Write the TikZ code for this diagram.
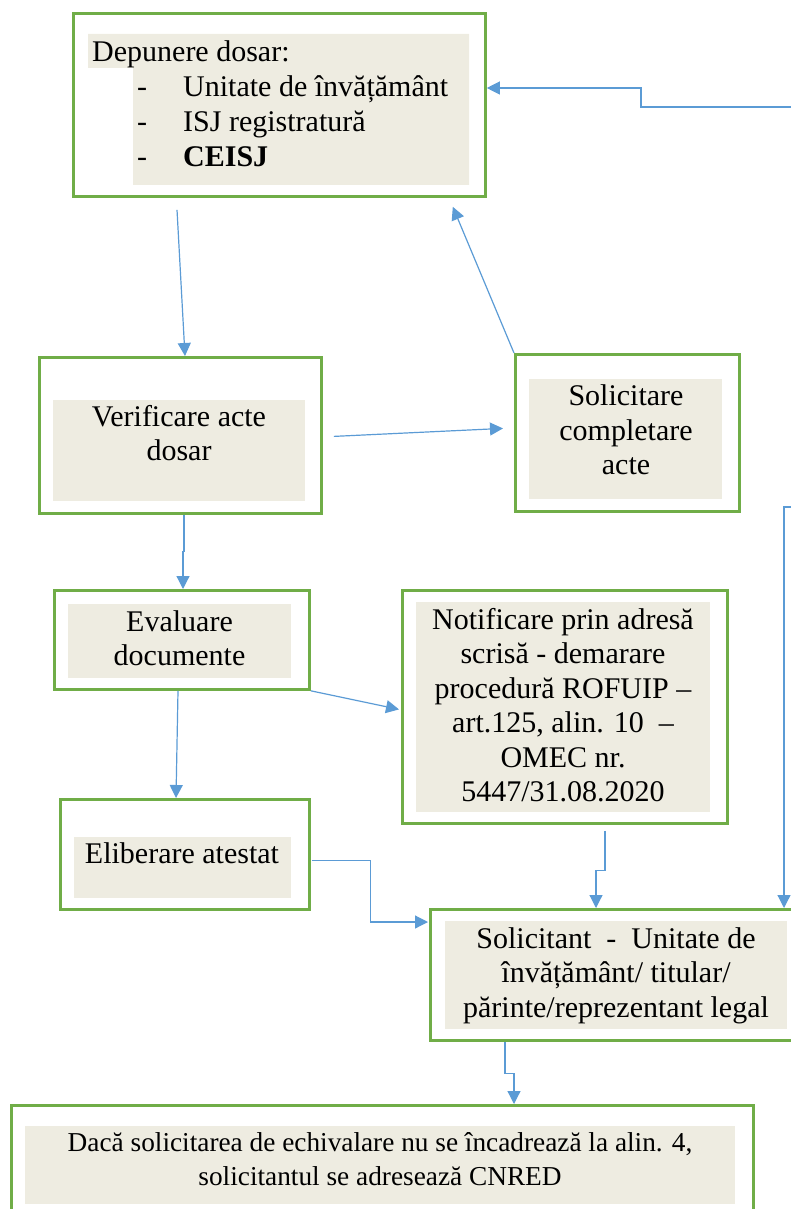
\documentclass[tikz,border=0pt]{standalone}
\usepackage{fontspec}
\setmainfont{Liberation Serif}
\usetikzlibrary{arrows.meta,calc}
\definecolor{boxgreen}{HTML}{70AD47}
\definecolor{panelbeige}{HTML}{EEECE1}
\definecolor{linkblue}{HTML}{5B9BD5}
\begin{document}
\begin{tikzpicture}[x=1pt,y=-1pt,
  outerbox/.style={draw=boxgreen,line width=2.8pt,inner sep=0pt,anchor=north west},
  innerpanel/.style={fill=panelbeige,draw=none,inner sep=0pt,anchor=north west},
  txt/.style={font=\fontsize{30}{34.5}\selectfont,align=center,inner sep=0pt},
  smalltxt/.style={font=\fontsize{27.3}{34}\selectfont,align=center,inner sep=0pt},
  linetxt/.style={font=\fontsize{30}{34.5}\selectfont,inner sep=0pt,anchor=base west},
  conn/.style={draw=linkblue,line width=1.2pt,-{Triangle[length=13pt,width=13pt]}}]
\path[use as bounding box,clip] (0,0) rectangle (791,1209);

% inner panels
\fill[panelbeige] (88,34) -- (469,34) -- (469,185) -- (133,185) -- (133,68) -- (88,68) -- cycle;
\node[innerpanel,minimum width=252pt,minimum height=101pt] (verin) at (53,400) {};
\node[innerpanel,minimum width=193pt,minimum height=120pt] (solin) at (529,379) {};
\node[innerpanel,minimum width=223pt,minimum height=74pt] (evain) at (68,604) {};
\node[innerpanel,minimum width=294pt,minimum height=210pt] (notifin) at (416,602) {};
\node[innerpanel,minimum width=217pt,minimum height=61pt] (elibin) at (74,837) {};
\node[innerpanel,minimum width=342pt,minimum height=108pt] (solicin) at (445,921) {};
\node[innerpanel,minimum width=710pt,minimum height=78pt] (dacain) at (25,1126) {};

% outer boxes
\node[outerbox,minimum width=412pt,minimum height=183pt] (dep) at (72,12) {};
\node[outerbox,minimum width=282pt,minimum height=156pt] (ver) at (38,356) {};
\node[outerbox,minimum width=224pt,minimum height=157pt] (sol) at (514,353) {};
\node[outerbox,minimum width=255pt,minimum height=99pt] (eva) at (53,589) {};
\node[outerbox,minimum width=325pt,minimum height=233pt] (notif) at (401,589) {};
\node[outerbox,minimum width=249pt,minimum height=110pt] (elib) at (59,798) {};
\node[outerbox,minimum width=374pt,minimum height=131pt] (solic) at (429,908) {};
\node[outerbox,minimum width=742pt,minimum height=114pt] (daca) at (10,1104) {};

% texts
\node[linetxt] (t0) at (92,62) {Depunere dosar:};
\node[linetxt] (d1) at (137,97) {-};
\node[linetxt] (d2) at (137,132) {-};
\node[linetxt] (d3) at (137,167) {-};
\node[linetxt] (t1) at (183,97) {Unitate de învățământ};
\node[linetxt] (t2) at (183,132) {ISJ registratură};
\node[linetxt] (t3) at (183,167) {\textbf{CEISJ}};
\node[txt] (tver) at (179,433) {Verificare acte\\dosar};
\node[txt] (tsol) at (626,430) {Solicitare\\completare\\acte};
\node[txt] (teva) at (179.5,638) {Evaluare\\documente};
\node[txt] (tnotif) at (563,705) {Notificare prin adresă\\scrisă - demarare\\procedură ROFUIP –\\art.125, alin. 10\ \ –\\OMEC nr.\\5447/31.08.2020};
\node[txt,anchor=base] (telib) at (182,863) {Eliberare atestat};
\node[txt] (tsolic) at (616,975.5) {Solicitant\ \ -\ \ Unitate de\\învățământ/ titular/\\părinte/reprezentant legal};
\node[smalltxt] (tdaca) at (380,1159) {Dacă solicitarea de echivalare nu se încadrează la alin. 4,\\solicitantul se adresează CNRED};

% free ends
\coordinate (ext1) at (791,107);
\coordinate (ext2) at (791,507);

% connectors
\draw[conn] ($(dep.south west)+(105,12)$) -- ($(ver.north west)+(147,0)$);
\draw[conn] (sol.north west) -- ($(dep.south east)+(-34,9)$);
\draw[conn] ($(ver.east)+(11,1)$) -- ($(sol.west)+(-11,-4.5)$);
\draw[conn] (ext1) -- ++(-150,0) -- ++(0,-19) -- ($(dep.north east)+(0,76)$);
\draw[conn] ($(ver.south west)+(146,0)$) -- ++(0,37) -- ++(-1,0) -- ($(eva.north west)+(130,0)$);
\draw[conn] (eva.south east) -- ($(notif.west)+(-2,2.5)$);
\draw[conn] ($(eva.south west)+(125,0)$) -- ($(elib.north west)+(117,0)$);
\draw[conn] ($(elib.east)+(1,6)$) -- ++(59,0) |- ($(solic.north west)+(-1,14)$);
\draw[conn] ($(notif.south west)+(204,6)$) -- ++(0,40) -- ++(-9,0) -- ($(solic.north west)+(167,0)$);
\draw[conn] (ext2) -- ++(-7,0) -- ($(solic.north west)+(355,0)$);
\draw[conn] ($(solic.south west)+(76,0)$) -- ++(0,32) -- ++(9,0) -- ($(daca.north west)+(504,0)$);
\end{tikzpicture}
\end{document}
